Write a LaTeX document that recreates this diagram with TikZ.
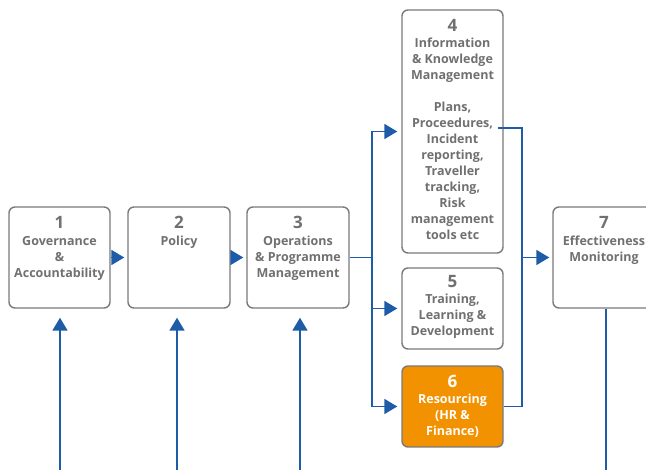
\documentclass[tikz,border=0pt]{standalone}
\usepackage{fontspec}
\setmainfont{Open Sans}
\usetikzlibrary{arrows.meta,calc}
\definecolor{bluec}{HTML}{1F5CA8}
\definecolor{grayt}{HTML}{707070}
\definecolor{grayb}{HTML}{7A7A7A}
\definecolor{orangec}{HTML}{F39200}
\newcommand\numtxt[1]{{\fontsize{17}{17}\selectfont #1}}
\begin{document}
\begin{tikzpicture}[x=1pt,y=-1pt,
  box/.style={draw=grayb, line width=1.4pt, rounded corners=6pt, fill=white, inner sep=0pt},
  lbl/.style={anchor=north, align=center, inner sep=0pt, text=grayt, font=\bfseries\fontsize{12.5}{16}\selectfont},
  conn/.style={draw=bluec, line width=1.8pt},
  arr/.style={conn, -{Triangle[length=13pt,width=15pt]}}]
\useasboundingbox (0,0) rectangle (646,470);
% boxes
\node[box, minimum width=101pt, minimum height=101pt] (b1) at (59.5,257.5) {};
\node[box, minimum width=102pt, minimum height=101pt] (b2) at (179,257.5) {};
\node[box, minimum width=102pt, minimum height=101pt] (b3) at (298,257.5) {};
\node[box, minimum width=101pt, minimum height=243pt] (b4) at (452.5,131.5) {};
\node[box, minimum width=101pt, minimum height=81pt] (b5) at (452.5,308.5) {};
\node[box, fill=orangec, minimum width=101pt, minimum height=81pt] (b6) at (452.5,406.5) {};
\node[box, minimum width=106pt, minimum height=101pt] (b7) at (606,257.5) {};
% labels
\node[lbl] (t1) at ([yshift=-10pt]b1.north) {\numtxt{1}\\[1pt]Governance\\\&\\Accountability};
\node[lbl] (t2) at ([yshift=-10pt]b2.north) {\numtxt{2}\\[1pt]Policy};
\node[lbl] (t3) at ([yshift=-10pt]b3.north) {\numtxt{3}\\[1pt]Operations\\\& Programme\\Management};
\node[lbl] (t4) at ([yshift=-10pt]b4.north) {\numtxt{4}\\Information\\\& Knowledge\\Management\\[16pt]Plans,\\Proceedures,\\Incident\\reporting,\\Traveller\\tracking,\\Risk\\management\\tools etc};
\node[lbl] (t5) at ([yshift=-8pt]b5.north) {\numtxt{5}\\Training,\\Learning \&\\Development};
\node[lbl, text=white] (t6) at ([yshift=-10pt]b6.north) {\numtxt{6}\\Resourcing\\(HR \&\\Finance)};
\node[lbl] (t7) at ([xshift=-2pt,yshift=-10pt]b7.north) {\numtxt{7}\\[1pt]Effectiveness\\Monitoring};
% connectors
\draw[arr, shorten >=3pt] (b1.east) -- (b2.west);
\draw[arr, shorten >=3pt] (b2.east) -- (b3.west);
\coordinate (j) at (372,257.5);
\draw[conn] (b3.east) -- (j);
\draw[arr, shorten >=4pt] (j) |- (b4.west);
\draw[arr, shorten >=4pt] (j) |- (b5.west);
\draw[arr, shorten >=4pt] (j) |- (b6.west);
\coordinate (r4) at (498,128);
\coordinate (rt) at (522,128);
\draw[conn] (r4) -- (rt) |- (b6.east);
\draw[arr, shorten >=3pt] (rt |- b7.west) -- (b7.west);
\coordinate (e7) at (606,470);
\draw[conn] (b7.south) -- (e7);
\coordinate (u1) at (60,470);
\coordinate (u2) at (177,470);
\coordinate (u3) at (300,470);
\draw[arr, shorten >=9pt] (u1) -- (u1 |- b1.south);
\draw[arr, shorten >=9pt] (u2) -- (u2 |- b2.south);
\draw[arr, shorten >=9pt] (u3) -- (u3 |- b3.south);
\end{tikzpicture}
\end{document}
